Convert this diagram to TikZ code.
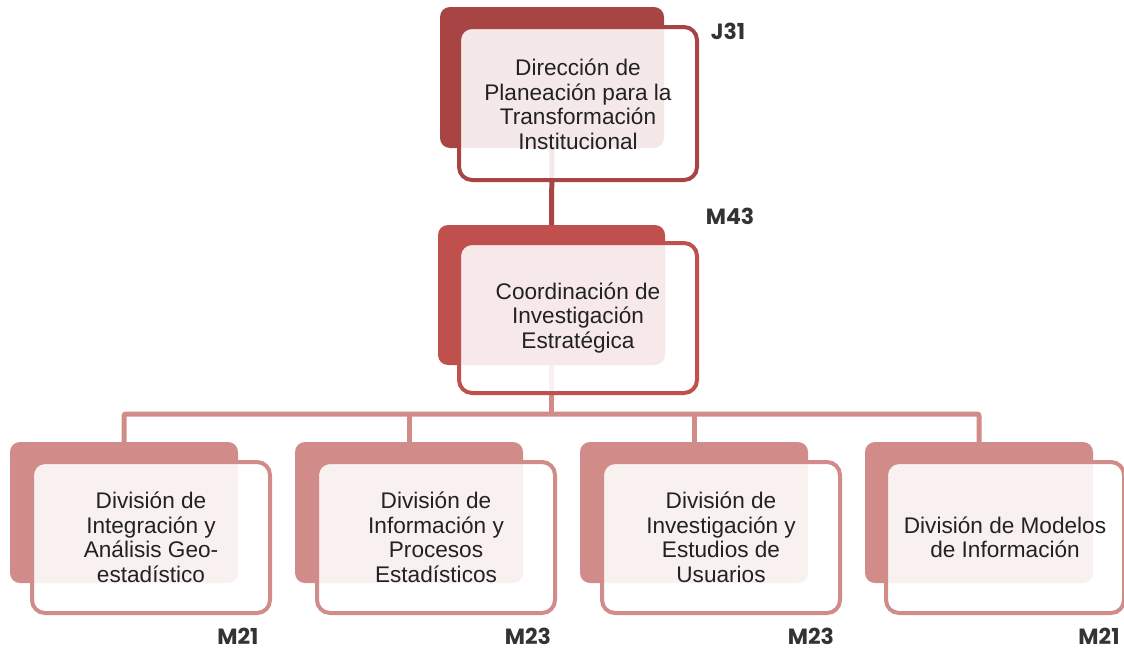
\documentclass[tikz,border=0pt]{standalone}
\usepackage{fontspec}
\setmainfont{Liberation Sans}
\newfontfamily\labfont{Poppins}
\definecolor{cTop}{HTML}{A94444}
\definecolor{cMid}{HTML}{C0504D}
\definecolor{cLow}{HTML}{D18B89}
\definecolor{cTxt}{HTML}{222222}
\definecolor{cLab}{HTML}{333333}
\tikzset{
  backbox/.style={rounded corners=10pt, inner sep=0pt, outer sep=0pt, minimum width=#1},
  frontbox/.style={rounded corners=13pt, line width=4pt, fill=white, fill opacity=0.88, inner sep=0pt, outer sep=0pt, minimum width=238pt},
  boxtext/.style={align=center, text=cTxt, font=\fontsize{22.6}{24.5}\selectfont},
  lab/.style={text=cLab, inner sep=0pt, font=\labfont\bfseries\fontsize{22}{24}\selectfont},
  conn/.style={line width=5pt},
}
\begin{document}
\begin{tikzpicture}[x=1pt,y=-1pt]
\useasboundingbox (0,0) rectangle (1124,653);
% top
\node[backbox=224pt, minimum height=141pt, fill=cTop] (tb) at (552,77.5) {};
\node[backbox=227pt, minimum height=140pt, fill=cMid] (mb) at (551.5,295) {};
\foreach \i/\x in {1/124,2/409,3/694,4/979}{
  \node[backbox=228pt, minimum height=141pt, fill=cLow] (b\i) at (\x,512.5) {};
}
% connectors
\draw[conn, draw=cTop] (tb.south) -- (mb.north);
\coordinate (bar) at (551.5,414);
\draw[conn, draw=cLow] (mb.south) -- (bar);
\draw[conn, draw=cLow, rounded corners=2pt] (b1.north) |- (bar) -| (b4.north);
\draw[conn, draw=cLow] (b2.north) -- (b2.north |- bar);
\draw[conn, draw=cLow] (b3.north) -- (b3.north |- bar);
% front boxes
\node[frontbox, minimum height=153pt, draw=cTop] (tf) at (578,103.5) {};
\node[frontbox, minimum height=150pt, draw=cMid] (mf) at (578,318) {};
\foreach \i/\x in {1/151,2/436,3/721,4/1005}{
  \node[frontbox, minimum height=151pt, draw=cLow] (f\i) at (\x,537.5) {};
}
% texts
\node[boxtext] (t0) at ([yshift=-1pt]tf.center) {Dirección de\\Planeación para la\\Transformación\\Institucional};
\node[boxtext] (t1) at (mf.center) {Coordinación de\\Investigación\\Estratégica};
\node[boxtext] (t2) at (f1.center) {División de\\Integración y\\Análisis Geo-\\estadístico};
\node[boxtext] (t3) at (f2.center) {División de\\Información y\\Procesos\\Estadísticos};
\node[boxtext] (t4) at (f3.center) {División de\\Investigación y\\Estudios de\\Usuarios};
\node[boxtext] (t5) at (f4.center) {División de Modelos\\de Información};
% labels
\node[lab] (l0) at (728,31) {J31};
\node[lab] (l1) at (730,216) {M43};
\node[lab] (l2) at (238,636) {M21};
\node[lab] (l3) at (528,636) {M23};
\node[lab] (l4) at (811,636) {M23};
\node[lab] (l5) at (1099,636) {M21};
\end{tikzpicture}
\end{document}
